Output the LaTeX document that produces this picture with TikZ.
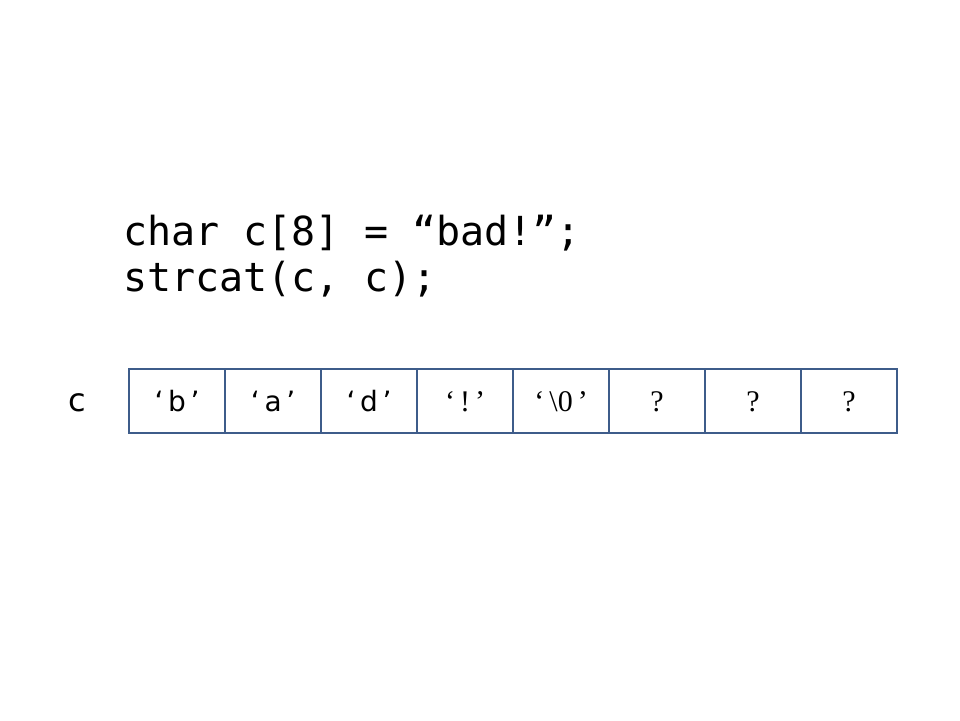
\documentclass[tikz,border=0pt]{standalone}
\usepackage{fontspec}
\setmainfont{Liberation Serif}
\newfontfamily\codefont{DejaVu Sans Mono}
\newfontfamily\labfont{DejaVu Sans}
\begin{document}
\begin{tikzpicture}[x=1pt,y=-1pt,
  cellbox/.style={draw=cellblue,line width=2.2pt,minimum width=96pt,minimum height=64pt,inner sep=0pt,anchor=north west,text height=20pt,text depth=0pt,font=\fontsize{30}{34}\selectfont},
  sanstext/.style={font=\labfont\fontsize{28}{32}\selectfont},
  codeline/.style={anchor=base west,inner sep=0pt,font=\codefont\fontsize{40}{44}\selectfont}]
\definecolor{cellblue}{RGB}{62,92,138}
\useasboundingbox (0,0) rectangle (960,720);
\node[codeline] (l1) at (123,245) {char c[8] = “bad!”;};
\node[codeline] (l2) at (123,291) {strcat(c, c);};
\node[anchor=base,inner sep=0pt,font=\labfont\fontsize{32}{36}\selectfont] (lab) at (77,411) {c};
\node[cellbox,sanstext] (c1) at (128,368) {‘\,b\,’};
\node[cellbox,sanstext] (c2) at (224,368) {‘\,a\,’};
\node[cellbox,sanstext] (c3) at (320,368) {‘\,d\,’};
\node[cellbox] (c4) at (416,368) {‘\,!\,’};
\node[cellbox] (c5) at (512,368) {‘\,\textbackslash 0\,’};
\node[cellbox] (c6) at (608,368) {?};
\node[cellbox] (c7) at (704,368) {?};
\node[cellbox] (c8) at (800,368) {?};
\end{tikzpicture}
\end{document}
